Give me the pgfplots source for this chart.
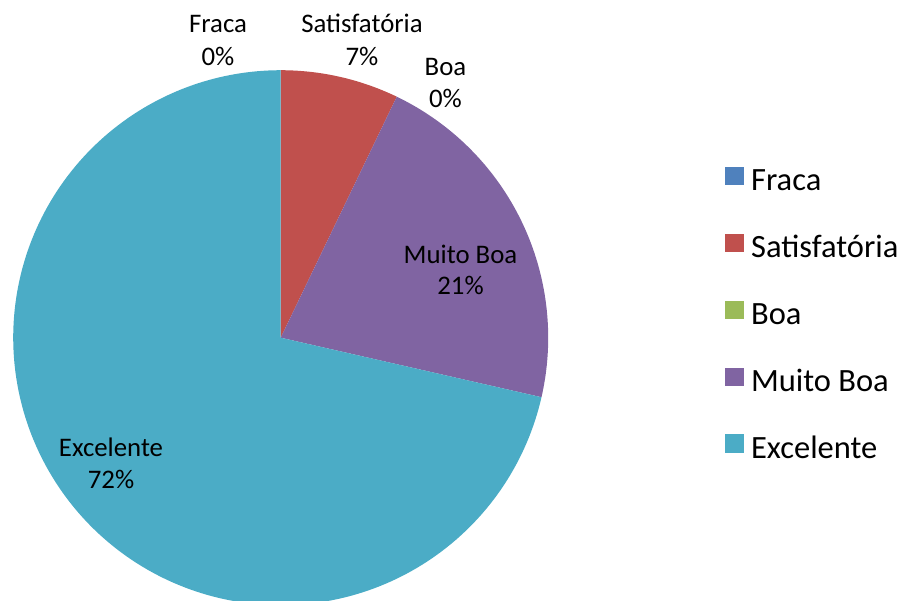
\documentclass[border=0pt]{standalone}
\usepackage{pgfplots}
\pgfplotsset{compat=1.18}
\usepackage{fontspec}
\setmainfont{Carlito}
\definecolor{cFraca}{HTML}{4F81BD}
\definecolor{cSat}{HTML}{C0504D}
\definecolor{cBoa}{HTML}{9BBB59}
\definecolor{cMB}{HTML}{8064A2}
\definecolor{cExc}{HTML}{4BACC6}
% values (counts) of the categories
\def\vFraca{0}\def\vSat{1}\def\vBoa{0}\def\vMB{3}\def\vExc{10}
\pgfmathsetmacro\vTot{\vFraca+\vSat+\vBoa+\vMB+\vExc}
\pgfmathsetmacro\aA{90}
\pgfmathsetmacro\aB{\aA-360*\vFraca/\vTot}
\pgfmathsetmacro\aC{\aB-360*\vSat/\vTot}
\pgfmathsetmacro\aD{\aC-360*\vBoa/\vTot}
\pgfmathsetmacro\aE{\aD-360*\vMB/\vTot}
\pgfmathsetmacro\aF{\aE-360*\vExc/\vTot}
\def\cx{280.7}\def\cy{262.3}\def\R{267.5}
\newcommand\lbl[5]{%
  \node[anchor=base,font=\fontsize{26.8}{30}\selectfont] at (axis cs:#1,#2) {#4};
  \node[anchor=base,font=\fontsize{26.8}{30}\selectfont] at (axis cs:#1,#3) {#5};}
\begin{document}
\begin{tikzpicture}
\begin{axis}[
  width=902pt, height=600pt, scale only axis,
  xmin=0, xmax=902, ymin=0, ymax=600,
  hide axis, clip=true,
  legend image code/.code={\fill[#1] (0pt,-0.5pt) rectangle (18pt,17pt);},
  legend cell align=left,
  legend style={at={(axis cs:725,433.5)}, anchor=north west, draw=none, fill=none,
    font=\fontsize{32.5}{38}\selectfont, row sep=36.75pt, inner sep=0pt,
    nodes={inner sep=0pt, text height=20pt, text depth=6pt},
    /tikz/every odd column/.append style={column sep=7.5pt}},
]
\addlegendimage{cFraca}\addlegendentry{Fraca}
\addlegendimage{cSat}\addlegendentry{Satisfatória}
\addlegendimage{cBoa}\addlegendentry{Boa}
\addlegendimage{cMB}\addlegendentry{Muito Boa}
\addlegendimage{cExc}\addlegendentry{Excelente}
\addplot[forget plot, fill=cSat, draw=none, domain=\aC:\aB, samples=40, variable=\t]
  ({\cx+\R*cos(\t)},{\cy+\R*sin(\t)}) -- (axis cs:\cx,\cy) -- cycle;
\addplot[forget plot, fill=cMB, draw=none, domain=\aE:\aD, samples=80, variable=\t]
  ({\cx+\R*cos(\t)},{\cy+\R*sin(\t)}) -- (axis cs:\cx,\cy) -- cycle;
\addplot[forget plot, fill=cExc, draw=none, domain=\aF:\aE, samples=200, variable=\t]
  ({\cx+\R*cos(\t)},{\cy+\R*sin(\t)}) -- (axis cs:\cx,\cy) -- cycle;
\lbl{218}{567}{534}{Fraca}{0\%}
\lbl{362}{567}{534}{Satisfatória}{7\%}
\lbl{445.5}{524}{492}{Boa}{0\%}
\lbl{460.5}{336.7}{305}{Muito Boa}{21\%}
\lbl{111}{143.3}{112}{Excelente}{72\%}
\end{axis}
\pgfresetboundingbox
\path (0,0) rectangle (902pt,600pt);
\end{tikzpicture}
\end{document}
